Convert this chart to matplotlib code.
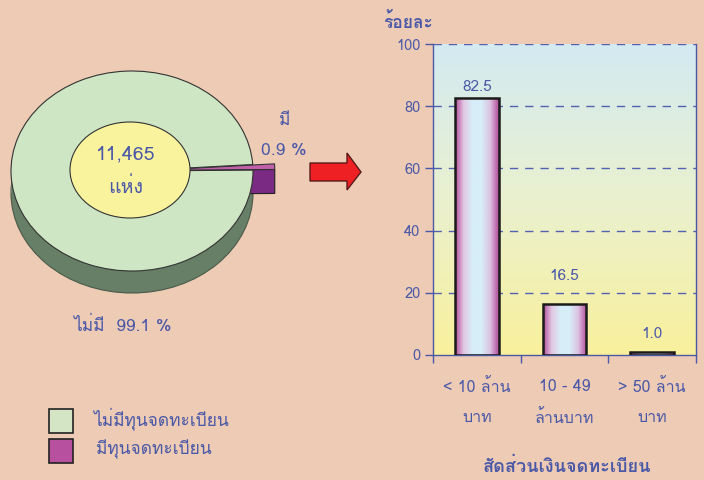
import numpy as np
import matplotlib
matplotlib.use("Agg")
import matplotlib.pyplot as plt
from matplotlib import font_manager, ft2font
from matplotlib.patches import Ellipse, Rectangle, Polygon
from matplotlib.colors import LinearSegmentedColormap

# ---------------- data ----------------
pie_labels = ["มีทุนจดทะเบียน", "ไม่มีทุนจดทะเบียน"]
pie_shares = [0.9, 99.1]
pie_short = ["มี", "ไม่มี"]
total_count = "11,465"
count_unit = "แห่ง"

bar_categories = ["< 10 ล้าน\nบาท", "10 - 49\nล้านบาท", "> 50 ล้าน\nบาท"]
bar_values = [82.5, 16.5, 1.0]
y_ticks = [0, 20, 40, 60, 80, 100]
y_label = "ร้อยละ"
x_label = "สัดส่วนเงินจดทะเบียน"

# ---------------- fonts ----------------
cands = []
for f in font_manager.fontManager.ttflist:
    try:
        cm = ft2font.FT2Font(f.fname).get_charmap()
    except Exception:
        continue
    if 0x0E21 in cm and 0x0030 in cm:
        cands.append(f.name)
pref = ["Tahoma", "Loma", "Noto Sans Thai", "Garuda", "Sarabun", "Norasi"]
thai = None
for p in pref:
    if p in cands:
        thai = p
        break
if thai is None and cands:
    thai = sorted(set(cands))[0]
fam = ([thai] if thai else []) + ["DejaVu Sans"]
plt.rcParams["font.family"] = fam

W, H = 704, 480
BG = "#EDCBB4"
TXT = "#4A58A8"
fig = plt.figure(figsize=(W / 100, H / 100), dpi=100, facecolor=BG)


def fx(px):
    return px / W


def fy(py):
    return 1 - py / H


# ---------------- pie (left) ----------------
axp = fig.add_axes([0, fy(320), fx(370), 260 / H])
axp.set_facecolor("none")
axp.axis("off")
cx, cy, rx, ry = 132, 171, 121, 100
depth = 0.22
start = 0.5
explode = [0.18, 0.0]

# disc side (dark)
axp.add_patch(Ellipse((0, -depth), 2, 2, facecolor="#667F66", edgecolor="#4A5A4A", lw=0.8, zorder=1))
axp.add_patch(Rectangle((-1, -depth), 2, depth, facecolor="#667F66", edgecolor="none", zorder=1))
# side face of exploded small wedge
ang = np.deg2rad(start)
mid = np.deg2rad(start + pie_shares[0] * 3.6 / 2)
ox = explode[0] * np.cos(mid)
oy = explode[0] * np.sin(mid)
tipx, tipy = ox + np.cos(ang), oy + np.sin(ang)
axp.add_patch(Polygon([(ox, oy), (tipx, tipy), (tipx, tipy - 0.24), (ox, oy - 0.24)],
                      closed=True, facecolor="#7A2A82", edgecolor="#222222", lw=0.8, zorder=2))

wedges, _ = axp.pie(pie_shares, colors=["#C060A8", "#CFE6C5"], startangle=start,
                    explode=explode, radius=1,
                    wedgeprops=dict(edgecolor="#333333", linewidth=0.8))
for w in wedges:
    w.set_zorder(3)
axp.set_aspect("auto")
axp.set_xlim(-cx / rx, (370 - cx) / rx)
axp.set_ylim(-(320 - cy) / ry, (cy - 60) / ry)

axp.add_patch(Ellipse(((130 - cx) / rx, (cy - 170) / ry), 2 * 60 / rx, 2 * 48 / ry,
                      facecolor="#FAF39E", edgecolor="#333333", lw=0.8, zorder=4))

fig.text(fx(126), fy(154), total_count, color=TXT, fontsize=14, ha="center", va="center")
fig.text(fx(126), fy(187), count_unit, color=TXT, fontsize=14, ha="center", va="center")
fig.text(fx(285), fy(121), pie_short[0], color=TXT, fontsize=12.5, ha="center", va="center")
fig.text(fx(284), fy(151), f"{pie_shares[0]} %", color=TXT, fontsize=12.5, ha="center", va="center")
fig.text(fx(122), fy(326), f"{pie_short[1]}  {pie_shares[1]} %", color=TXT, fontsize=12.5,
         ha="center", va="center")

# legend
for i, (lab, col) in enumerate(zip([pie_labels[1], pie_labels[0]], ["#D3E5C4", "#B850A0"])):
    top = 409 + i * 30
    fig.patches.append(Rectangle((fx(49), fy(top + 24)), fx(24), 24 / H, transform=fig.transFigure,
                                 facecolor=col, edgecolor="#222222", lw=1.2))
    fig.text(fx(93 + i * 3), fy(top + 10), lab, color=TXT, fontsize=12.5, ha="left", va="center")

# arrow
fig.patches.append(Polygon([(fx(310), fy(163)), (fx(347), fy(163)), (fx(347), fy(153)),
                            (fx(361), fy(172)), (fx(347), fy(190)), (fx(347), fy(181)),
                            (fx(310), fy(181))], closed=True, transform=fig.transFigure,
                           facecolor="#EE2024", edgecolor="#5A1A1A", lw=1))

# ---------------- bar chart (right) ----------------
ax = fig.add_axes([fx(433), fy(355), (696 - 433) / W, (355 - 44) / H])
ax.set_facecolor("none")
x = np.arange(len(bar_values))

bgc = LinearSegmentedColormap.from_list("bg", ["#F9F09C", "#EAF1CF", "#D3EAF2"])
grad = np.linspace(0, 1, 256).reshape(-1, 1)
ax.imshow(grad, cmap=bgc, origin="lower", aspect="auto",
          extent=[-0.5, len(bar_values) - 0.5, 0, 100], zorder=0)

for yv in y_ticks[1:]:
    ax.axhline(yv, color="#5262B0", lw=1, ls=(0, (6, 5)), zorder=1)

barcm = LinearSegmentedColormap.from_list(
    "bar", ["#B04A98", "#E4C8E4", "#D6EEF8", "#D6EEF8", "#DCC2E2", "#B04A98"])
bars = ax.bar(x, bar_values, width=0.5, facecolor="none", edgecolor="#1A1A1A", lw=1.8, zorder=3)
hgrad = np.linspace(0, 1, 256).reshape(1, -1)
label_offsets = [3, 15, 8]
for b, off in zip(bars, label_offsets):
    im = ax.imshow(hgrad, cmap=barcm, aspect="auto",
                   extent=[b.get_x(), b.get_x() + b.get_width(), 0, b.get_height()], zorder=2)
    im.set_clip_path(b)
    ax.annotate(f"{b.get_height():.1f}", (b.get_x() + b.get_width() / 2, b.get_height()),
                xytext=(0, off), textcoords="offset points", ha="center", va="bottom",
                color=TXT, fontsize=11)
ax.set_xlim(-0.5, len(bar_values) - 0.5)
ax.set_ylim(0, 100)

for s in ["left", "bottom", "right"]:
    ax.spines[s].set_color("#4A58A8")
    ax.spines[s].set_linewidth(1)
ax.spines["top"].set_visible(False)

ax.set_yticks(y_ticks)
ax.set_yticklabels([str(v) for v in y_ticks])
ax.tick_params(axis="y", colors="#4A58A8", labelcolor=TXT, labelsize=10.5, length=6, width=1, pad=3)
ax.set_xticks(x)
ax.set_xticklabels(bar_categories, linespacing=2.2)
ax.set_xticks(np.arange(-0.5, len(bar_values), 1), minor=True)
ax.tick_params(axis="x", which="major", length=0, labelcolor=TXT, labelsize=11.5, pad=17)
ax.tick_params(axis="x", which="minor", length=6, width=1, colors="#4A58A8")

fig.text(fx(408), fy(22), y_label, color=TXT, fontsize=12.5, fontweight="bold", ha="center", va="center")
fig.text(fx(567), fy(467), x_label, color=TXT, fontsize=13, fontweight="bold", ha="center", va="center")

fig.savefig("out.png", dpi=100, facecolor=BG)
